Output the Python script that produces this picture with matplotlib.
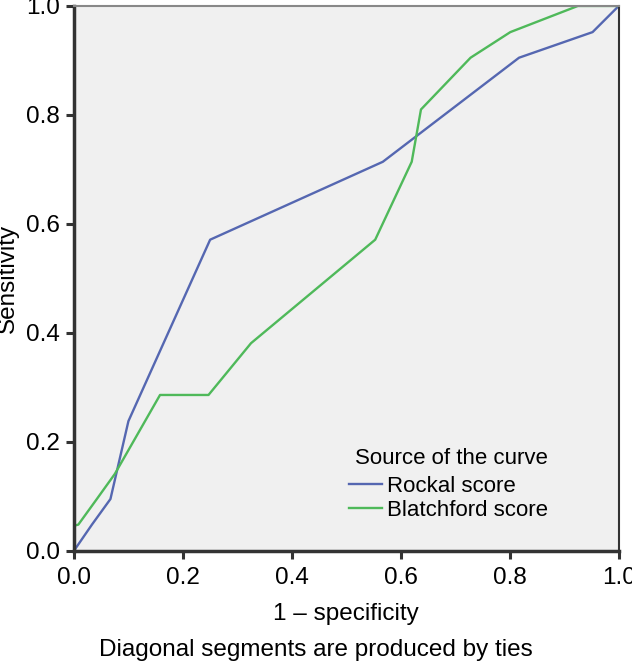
import matplotlib
matplotlib.use("Agg")
import matplotlib.pyplot as plt

plt.rcParams['font.family'] = ['Liberation Sans', 'DejaVu Sans']

# ROC curve points
rockal_fpr = [0.0, 0.033, 0.067, 0.100, 0.250, 0.567, 0.817, 0.952, 1.0]
rockal_tpr = [0.0, 0.048, 0.095, 0.238, 0.571, 0.714, 0.905, 0.952, 1.0]

blatch_fpr = [0.0, 0.0, 0.008, 0.042, 0.075, 0.158, 0.247, 0.325, 0.553,
              0.620, 0.637, 0.728, 0.801, 0.925, 1.0]
blatch_tpr = [0.0, 0.046, 0.048, 0.095, 0.141, 0.286, 0.286, 0.381, 0.571,
              0.714, 0.810, 0.905, 0.952, 1.0, 1.0]

ticks = [0.0, 0.2, 0.4, 0.6, 0.8, 1.0]
tick_labels = ["0.0", "0.2", "0.4", "0.6", "0.8", "1.0"]

fs = 17.5
leg_fs = 16

fig = plt.figure(figsize=(6.32, 6.62), dpi=100)
ax = fig.add_axes([0.117, 0.168, 0.862, 0.823])
ax.set_facecolor("#f0f0f0")

ax.plot(rockal_fpr, rockal_tpr, color="#5567b1", lw=1.7, label="Rockal score")
ax.plot(blatch_fpr, blatch_tpr, color="#4fb95a", lw=1.7, label="Blatchford score")

ax.set_xlim(0, 1)
ax.set_ylim(0, 1)
ax.set_xticks(ticks)
ax.set_xticklabels(tick_labels)
ax.set_yticks(ticks)
ax.set_yticklabels(tick_labels)
ax.tick_params(direction="out", length=6, width=2.2, labelsize=fs, color="#333333")
ax.tick_params(axis="x", pad=6)
ax.tick_params(axis="y", pad=4)

for s in ["left", "bottom"]:
    ax.spines[s].set_linewidth(2.5)
    ax.spines[s].set_color("#333333")
ax.spines["right"].set_linewidth(1.5)
ax.spines["right"].set_color("#333333")
ax.spines["top"].set_linewidth(1.5)
ax.spines["top"].set_color("#888888")

ax.set_xlabel("1 \u2013 specificity", fontsize=fs, labelpad=10)
ax.set_ylabel("Sensitivity", fontsize=fs, labelpad=5)

# legend title drawn separately to get the wider gap above the entries
ax.text(0.5165, 0.170, "Source of the curve", transform=ax.transAxes,
        ha="left", va="center", fontsize=leg_fs)
ax.legend(loc="upper left", bbox_to_anchor=(0.505, 0.137), frameon=False,
          fontsize=leg_fs, handlelength=1.5, handletextpad=0.2,
          labelspacing=0.12, borderaxespad=0, borderpad=0)

fig.text(0.5, 0.018, "Diagonal segments are produced by ties",
         ha="center", va="center", fontsize=fs)

fig.savefig("out.png", dpi=100)
